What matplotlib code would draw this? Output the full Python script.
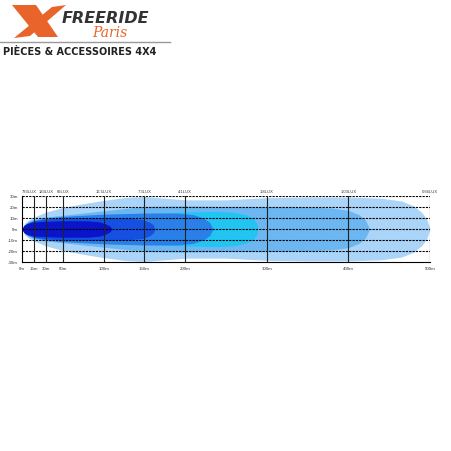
import matplotlib
matplotlib.use("Agg")
import matplotlib.pyplot as plt
from matplotlib.patches import Polygon
from matplotlib.transforms import blended_transform_factory

# distances with a reference line, and the lux read at each one
line_dist = [15, 30, 50, 100, 150, 200, 300, 400, 500]
line_lux = ["733LUX", "183LUX", "66LUX", "16.5LUX", "7.3LUX", "4.1LUX", "1.8LUX", "1.03LUX", "0.66LUX"]
dist_labels = ["0m", "15m", "30m", "50m", "100m", "150m", "200m", "300m", "400m", "500m"]
width_ticks = [30, 20, 10, 0, -10, -20, -30]

# isolux contours: distance (m) and half width (m), outermost first
c1_x = [0, 3, 8, 15, 30, 50, 75, 100, 125, 150, 175, 200, 250, 300, 350, 400, 440, 465, 480, 490, 496, 500]
c1_h = [0, 5, 8, 11, 15.5, 19.5, 23, 26, 28.5, 29.5, 28, 26.5, 26.5, 28.5, 29, 29, 28, 25.5, 21, 15, 9, 0]
c2_x = [0, 3, 8, 15, 30, 50, 75, 100, 150, 200, 250, 300, 350, 380, 400, 413, 421, 426]
c2_h = [0, 4, 7, 9, 11, 12.5, 14.5, 16.5, 20.5, 21, 20.5, 20.5, 20, 19, 17, 13, 8, 0]
c3_x = [0, 3, 8, 15, 30, 50, 100, 150, 200, 240, 262, 276, 284, 288, 289]
c3_h = [0, 3, 5.5, 7.5, 9.5, 11, 13, 14, 15.5, 16, 15, 12.5, 9, 5, 0]
c4_x = [0, 3, 8, 15, 30, 50, 100, 150, 190, 210, 222, 230, 234]
c4_h = [0, 3.5, 6, 8, 10, 11.5, 13.5, 14.5, 14.5, 13, 10, 6, 0]
c5_x = [0, 3, 8, 15, 30, 50, 100, 130, 148, 157, 161, 163]
c5_h = [0, 3, 5.5, 7.5, 9, 10, 10.5, 10, 8.5, 6, 3.5, 0]
c6_x = [0, 2, 6, 15, 30, 50, 80, 95, 103, 108, 110]
c6_h = [0, 3, 5, 6.5, 7, 7.5, 7.5, 6.5, 4.5, 2.5, 0]

contours = [(c1_x, c1_h), (c2_x, c2_h), (c3_x, c3_h), (c4_x, c4_h), (c5_x, c5_h), (c6_x, c6_h)]
colours = ["#aad4f8", "#6cb6f2", "#22c4f2", "#2a80e8", "#1650e2", "#0a14c8"]

fig = plt.figure(figsize=(4.52, 4.52), dpi=100)

# logo area drawn in pixel units
logo = fig.add_axes([0, 0, 1, 1])
logo.set_xlim(0, 452)
logo.set_ylim(452, 0)
logo.axis("off")
orange = "#e8642a"
logo.add_patch(Polygon([(12, 6), (36, 6), (58, 38), (38, 38)], color=orange, lw=0))
logo.add_patch(Polygon([(66, 6), (52, 8), (14, 39), (30, 37)], color=orange, lw=0))
logo.text(62, 23, "FREERIDE", fontsize=11.5, fontweight="bold", fontstyle="italic",
          color="#333333", va="baseline", ha="left")
logo.text(92, 37, "Paris", fontsize=10, fontstyle="italic", family="DejaVu Serif",
          color=orange, va="baseline", ha="left")
logo.plot([0, 170], [43, 43], color="#999999", lw=1)
logo.text(3, 52, "PIÈCES & ACCESSOIRES 4X4", fontsize=7, fontweight="bold",
          color="#222222", va="center", ha="left")

# beam chart
ax = fig.add_axes([22 / 452, 1 - 263 / 452, 408 / 452, 66 / 452])
for (cx, ch), col in zip(contours, colours):
    ax.fill_between(cx, [-v for v in ch], ch, color=col, lw=0)

for y in [20, 10, 0, -10, -20, 30]:
    ax.axhline(y, color="black", lw=0.8, dashes=(2, 1))
for d in line_dist:
    ax.axvline(d, color="#222222", lw=0.8)

ax.set_xlim(0, 500)
ax.set_ylim(-30, 30)
ax.spines["top"].set_visible(False)
ax.spines["right"].set_visible(False)
ax.spines["left"].set_linewidth(0.8)
ax.spines["bottom"].set_linewidth(0.8)

small = dict(fontsize=3.2, family="Liberation Sans", color="#333333")
ax.set_xticks([0] + line_dist)
ax.set_xticklabels(dist_labels, **small)
ax.set_yticks(width_ticks)
ax.set_yticklabels([f"{v}m" for v in width_ticks], **small)
ax.tick_params(length=0)
ax.tick_params(axis="x", pad=3)
ax.tick_params(axis="y", pad=3)

# lux labels above the lines; the first one sits left of its line, the
# lines at 15 m and 30 m are too close together for centred text
lux_small = dict(small, fontsize=3.0)
trans = blended_transform_factory(ax.transData, ax.transAxes)
for i, (d, lux) in enumerate(zip(line_dist, line_lux)):
    if i == 0:
        ax.text(d + 3, 1.0 + 5 / 66, lux, transform=trans, ha="right", va="center", **lux_small)
    else:
        ax.text(d, 1.0 + 5 / 66, lux, transform=trans, ha="center", va="center", **lux_small)

fig.savefig("out.png", dpi=100)
